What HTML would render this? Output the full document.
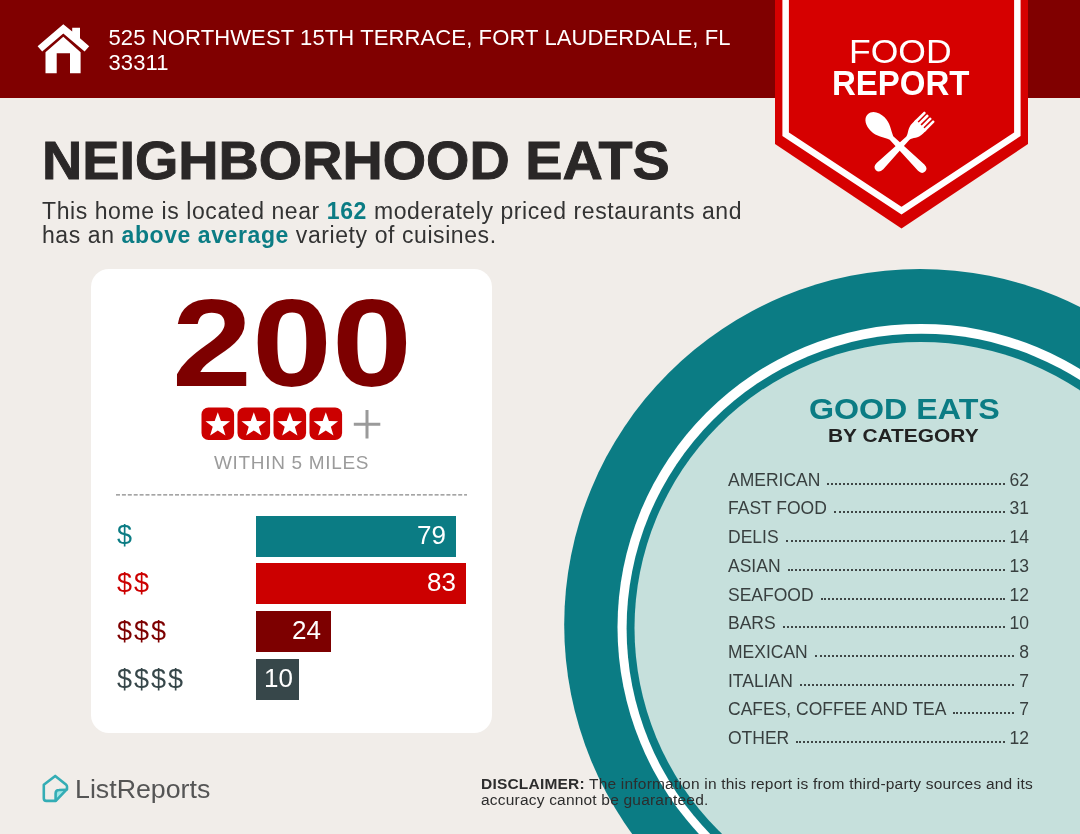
<!DOCTYPE html>
<html lang="en">
<head>
<meta charset="utf-8">
<title>Food Report - Neighborhood Eats</title>
<style>
*{margin:0;padding:0;box-sizing:border-box}
html,body{width:1080px;height:834px;overflow:hidden;background:#f1ede9}
body{position:relative;font-family:"Liberation Sans",sans-serif;color:#2d2a2a}
.abs{position:absolute;white-space:nowrap;line-height:1}
#shapes{position:absolute;left:0;top:0;width:1080px;height:834px}
#header{position:absolute;left:0;top:0;width:1080px;height:98px;background:#800000}
.addr{color:#fff;font-size:22px;left:108.5px;letter-spacing:.12px}
#title{left:42px;top:133.6px;font-size:53px;font-weight:bold;color:#2a2727;-webkit-text-stroke:.9px #2a2727;transform-origin:0 0;transform:scaleX(1.052)}
.sub{left:42px;font-size:23px;color:#333;letter-spacing:.58px}
.sub b{color:#0b7c84}
#card{position:absolute;left:91px;top:269px;width:401px;height:464px;border-radius:18px;background:#fff}
#big{left:177px;top:279.5px;width:230px;text-align:center;font-size:125px;font-weight:bold;color:#7d0000;transform-origin:50% 50%;transform:scaleX(1.15)}
#within{left:214px;top:453px;font-size:19px;color:#9b9b9b;letter-spacing:.68px}
#dash{position:absolute;left:117px;top:494px;width:350px;height:0;border-top:1.5px dashed #9a9a9a}
.bar{position:absolute;left:256px;height:41px;color:#fff;font-size:26px;line-height:39.5px;text-align:right;padding-right:10px}
.dol{font-size:27px;left:117px;letter-spacing:2px}
.ge1{left:809px;top:393.8px;font-size:30px;font-weight:bold;color:#0b7c84;transform-origin:0 0;transform:scaleX(1.073)}
.ge2{left:828px;top:426.3px;font-size:19px;font-weight:bold;color:#222;transform-origin:0 0;transform:scaleX(1.10)}
.row{position:absolute;left:728px;width:301px;height:20px;font-size:17.5px;line-height:20px;color:#383f3f;display:flex;align-items:baseline;white-space:nowrap}
.row .d{flex:1;margin:0 5px 0 7px;height:0;border-bottom:2px dotted #3f4646;transform:translateY(-1px)}
#logo{left:74.8px;top:777px;font-size:25px;color:#555;transform-origin:0 0;transform:scaleX(1.07)}
.disc{left:481px;font-size:15.5px;color:#2d2d2d;letter-spacing:.2px}
.fr1{color:#fff;font-size:32.6px;left:848.5px;top:35.8px;transform-origin:0 0;transform:scaleX(1.09)}
.fr2{color:#fff;font-size:35px;font-weight:bold;left:831.5px;top:65.2px;transform-origin:0 0;transform:scaleX(.943)}
</style>
</head>
<body>
<div id="header"></div>
<svg id="shapes" viewBox="0 0 1080 834">
  <!-- plate -->
  <circle cx="920" cy="624.8" r="355.8" fill="#0b7c84"/>
  <circle cx="920.8" cy="627.2" r="303.3" fill="#ffffff"/>
  <circle cx="921.3" cy="628.4" r="294.7" fill="#0b7c84"/>
  <circle cx="920.6" cy="628" r="286.1" fill="#c6e0dc"/>
  <rect x="91" y="269" width="401" height="464" rx="18" fill="#fff"/>
  <line x1="116" y1="494.9" x2="467" y2="494.9" stroke="#888" stroke-width="1.4" stroke-dasharray="4 1.9"/>
  <!-- badge -->
  <polygon points="775,0 775,144 901.5,228.5 1028,144 1028,0" fill="#d60000"/>
  <polyline points="785.65,-5 785.65,134.25 901.5,210.6 1017.35,134.25 1017.35,-5" fill="none" stroke="#fff" stroke-width="6.5" stroke-linejoin="miter"/>
  <!-- house icon -->
  <g fill="#fff">
    <polygon points="63.3,24.2 37.6,46.2 42.2,51.6 63.3,33.4 84.6,51.6 89.2,46.2 80,38.2 80,27.8 72.2,27.8 72.2,31.6"/>
    <path d="M45.5,52.3 L63.3,36.8 L80.6,52.3 L80.6,73.2 L70,73.2 L70,53.3 L56.7,53.3 L56.7,73.2 L45.5,73.2 Z"/>
  </g>
  <!-- spoon + fork -->
  <g fill="#fff">
    <g transform="translate(867.8,114.3) rotate(-45)">
      <path d="M0,0 C6.5,0 9.7,7 9.7,14 C9.7,22 5,27.5 2.5,33.5 L4.5,75.5 Q4.5,81 0,81 Q-4.5,81 -4.5,75.5 L-2.5,33.5 C-5,27.5 -9.7,22 -9.7,14 C-9.7,7 -6.5,0 0,0 Z"/>
    </g>
    <g transform="translate(929.6,116.5) rotate(45)">
      <rect x="-7.5" y="0" width="2.6" height="15" rx="1"/>
      <rect x="-3.4" y="0" width="2.6" height="15" rx="1"/>
      <rect x="0.8" y="0" width="2.6" height="15" rx="1"/>
      <rect x="4.9" y="0" width="2.6" height="15" rx="1"/>
      <path d="M-7.5,12 L7.5,12 L7.5,17 C7.5,24 3,26.5 2.2,31 L4.5,70 Q4.5,76 0,76 Q-4.5,76 -4.5,70 L-2.2,31 C-3,26.5 -7.5,24 -7.5,17 Z"/>
    </g>
  </g>
  <!-- stars -->
  <g transform="translate(201.5,407.5)"><rect x="0" y="0" width="32.6" height="32.5" rx="7" fill="#cc0000"/><polygon fill="#fff" transform="translate(16.3,17) scale(1.08) translate(-16,-16.3)" points="16,5 18.9,13 27.4,13.2 20.7,18.4 23.1,26.6 16,21.8 8.9,26.6 11.3,18.4 4.6,13.2 13.1,13"/></g>
  <g transform="translate(237.5,407.5)"><rect x="0" y="0" width="32.6" height="32.5" rx="7" fill="#cc0000"/><polygon fill="#fff" transform="translate(16.3,17) scale(1.08) translate(-16,-16.3)" points="16,5 18.9,13 27.4,13.2 20.7,18.4 23.1,26.6 16,21.8 8.9,26.6 11.3,18.4 4.6,13.2 13.1,13"/></g>
  <g transform="translate(273.5,407.5)"><rect x="0" y="0" width="32.6" height="32.5" rx="7" fill="#cc0000"/><polygon fill="#fff" transform="translate(16.3,17) scale(1.08) translate(-16,-16.3)" points="16,5 18.9,13 27.4,13.2 20.7,18.4 23.1,26.6 16,21.8 8.9,26.6 11.3,18.4 4.6,13.2 13.1,13"/></g>
  <g transform="translate(309.5,407.5)"><rect x="0" y="0" width="32.6" height="32.5" rx="7" fill="#cc0000"/><polygon fill="#fff" transform="translate(16.3,17) scale(1.08) translate(-16,-16.3)" points="16,5 18.9,13 27.4,13.2 20.7,18.4 23.1,26.6 16,21.8 8.9,26.6 11.3,18.4 4.6,13.2 13.1,13"/></g>
  <path d="M353.8,424.2 H380.3 M367,410 V438.4" stroke="#9a9a9a" stroke-width="3" fill="none"/>
  <!-- logo mark -->
  <path d="M55.6,800.6 L55.6,793.4 Q55.6,790 59,790 L66.2,789.6 Z" fill="#9fe6e6"/>
  <path d="M55.2,775.9 L43.8,784.8 L43.8,798.3 Q43.8,800.9 46.4,800.9 L55.8,800.9 L67,789.2 L67,786.6 Q67,785.3 65.9,784.4 Z" fill="none" stroke="#34adb5" stroke-width="2.6" stroke-linejoin="round"/>
  <path d="M55.6,800.6 L55.6,793.4 Q55.6,790 59,790 L66.4,789.7" fill="none" stroke="#34adb5" stroke-width="2.6" stroke-linejoin="round" stroke-linecap="round"/>
</svg>

<div class="abs addr" style="top:27.2px">525 NORTHWEST 15TH TERRACE, FORT LAUDERDALE, FL</div>
<div class="abs addr" style="top:51.5px">33311</div>

<div class="abs fr1">FOOD</div>
<div class="abs fr2">REPORT</div>

<div class="abs" id="title">NEIGHBORHOOD EATS</div>
<div class="abs sub" style="top:199.6px">This home is located near <b>162</b> moderately priced restaurants and</div>
<div class="abs sub" style="top:224px">has an <b>above average</b> variety of cuisines.</div>

<div class="abs" id="big">200</div>
<div class="abs" id="within">WITHIN 5 MILES</div>

<div class="abs dol" style="top:522px;color:#0b7c84">$</div>
<div class="abs dol" style="top:570px;color:#cc0000">$$</div>
<div class="abs dol" style="top:618px;color:#7d0000">$$$</div>
<div class="abs dol" style="top:666px;color:#37474a">$$$$</div>
<div class="bar" style="top:516px;width:200px;background:#0b7c84">79</div>
<div class="bar" style="top:563px;width:210px;background:#cc0000">83</div>
<div class="bar" style="top:611px;width:75px;background:#7d0000">24</div>
<div class="bar" style="top:659px;width:43px;background:#37474a;padding-right:6px">10</div>

<div class="abs ge1">GOOD EATS</div>
<div class="abs ge2">BY CATEGORY</div>

<div class="row" style="top:469.6px"><span>AMERICAN</span><i class="d"></i><span>62</span></div>
<div class="row" style="top:498.3px"><span>FAST FOOD</span><i class="d"></i><span>31</span></div>
<div class="row" style="top:527.0px"><span>DELIS</span><i class="d"></i><span>14</span></div>
<div class="row" style="top:555.8px"><span>ASIAN</span><i class="d"></i><span>13</span></div>
<div class="row" style="top:584.5px"><span>SEAFOOD</span><i class="d"></i><span>12</span></div>
<div class="row" style="top:613.2px"><span>BARS</span><i class="d"></i><span>10</span></div>
<div class="row" style="top:641.9px"><span>MEXICAN</span><i class="d"></i><span>8</span></div>
<div class="row" style="top:670.6px"><span>ITALIAN</span><i class="d"></i><span>7</span></div>
<div class="row" style="top:699.4px"><span>CAFES, COFFEE AND TEA</span><i class="d"></i><span>7</span></div>
<div class="row" style="top:728.1px"><span>OTHER</span><i class="d"></i><span>12</span></div>

<div class="abs" id="logo">ListReports</div>
<div class="abs disc" style="top:776px"><b>DISCLAIMER:</b> The information in this report is from third-party sources and its</div>
<div class="abs disc" style="top:792.2px">accuracy cannot be guaranteed.</div>
</body>
</html>
